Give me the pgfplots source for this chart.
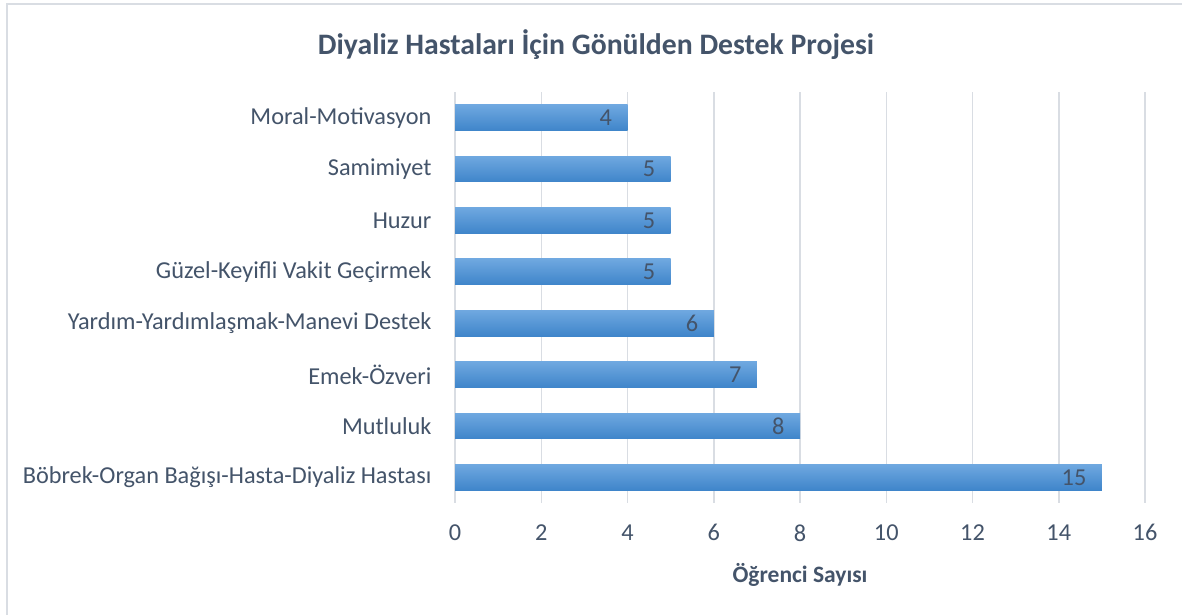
\documentclass[border=0pt]{standalone}
\usepackage{pgfplots}
\pgfplotsset{compat=1.18}
\usepackage{fontspec}
\setmainfont{Carlito}
\definecolor{txt}{HTML}{44546A}
\definecolor{grd}{HTML}{D9DDE3}
\definecolor{bartop}{HTML}{6FA8E0}
\definecolor{barbot}{HTML}{3F85CA}
\begin{document}
\begin{tikzpicture}[x=1pt,y=1pt]
\useasboundingbox (0,0) rectangle (1182,615);
\path[fill=white] (0,0) rectangle (1182,615);
\draw[grd, line width=1.5pt] (7,0) -- (7,611) -- (1182,611);
\node[font=\fontsize{29.7}{34}\selectfont\bfseries, text=txt] at (596,570) {Diyaliz Hastaları İçin Gönülden Destek Projesi};
\begin{axis}[
  at={(455pt,112pt)}, anchor=south west,
  scale only axis, width=690pt, height=411pt,
  xmin=0, xmax=16, ymin=-0.5, ymax=7.5,
  xtick={0,2,...,16},
  ytick={0,1,...,7},
  yticklabels={Böbrek-Organ Bağışı-Hasta-Diyaliz Hastası, Mutluluk, Emek-Özveri, Yardım-Yardımlaşmak-Manevi Destek, Güzel-Keyifli Vakit Geçirmek, Huzur, Samimiyet, Moral-Motivasyon},
  /pgf/number format/assume math mode=true,
  axis line style={draw=none},
  major tick length=0pt,
  xmajorgrids, grid style={grd, line width=1.5pt},
  ticklabel style={font=\fontsize{24.3}{28}\selectfont, text=txt},
  yticklabel style={xshift=-20pt},
  xticklabel style={yshift=-18pt},
  xlabel={Öğrenci Sayısı},
  xlabel style={font=\fontsize{23.5}{28}\selectfont\bfseries, text=txt, at={(axis description cs:0.5,0)}, anchor=center, yshift=-72pt},
  every axis plot/.append style={xbar, bar width=0.5, bar shift=0pt, draw=none, top color=bartop, bottom color=barbot},
  every axis plot post/.append style={mark=none},
  nodes near coords, point meta=x,
  nodes near coords style={anchor=east, xshift=-12pt, font=\fontsize{24.3}{28}\selectfont, text=txt},
  clip=false,
]
\addplot coordinates {(15,0)};
\addplot coordinates {(8,1)};
\addplot coordinates {(7,2)};
\addplot coordinates {(6,3)};
\addplot coordinates {(5,4)};
\addplot coordinates {(5,5)};
\addplot coordinates {(5,6)};
\addplot coordinates {(4,7)};
\end{axis}
\end{tikzpicture}
\end{document}
